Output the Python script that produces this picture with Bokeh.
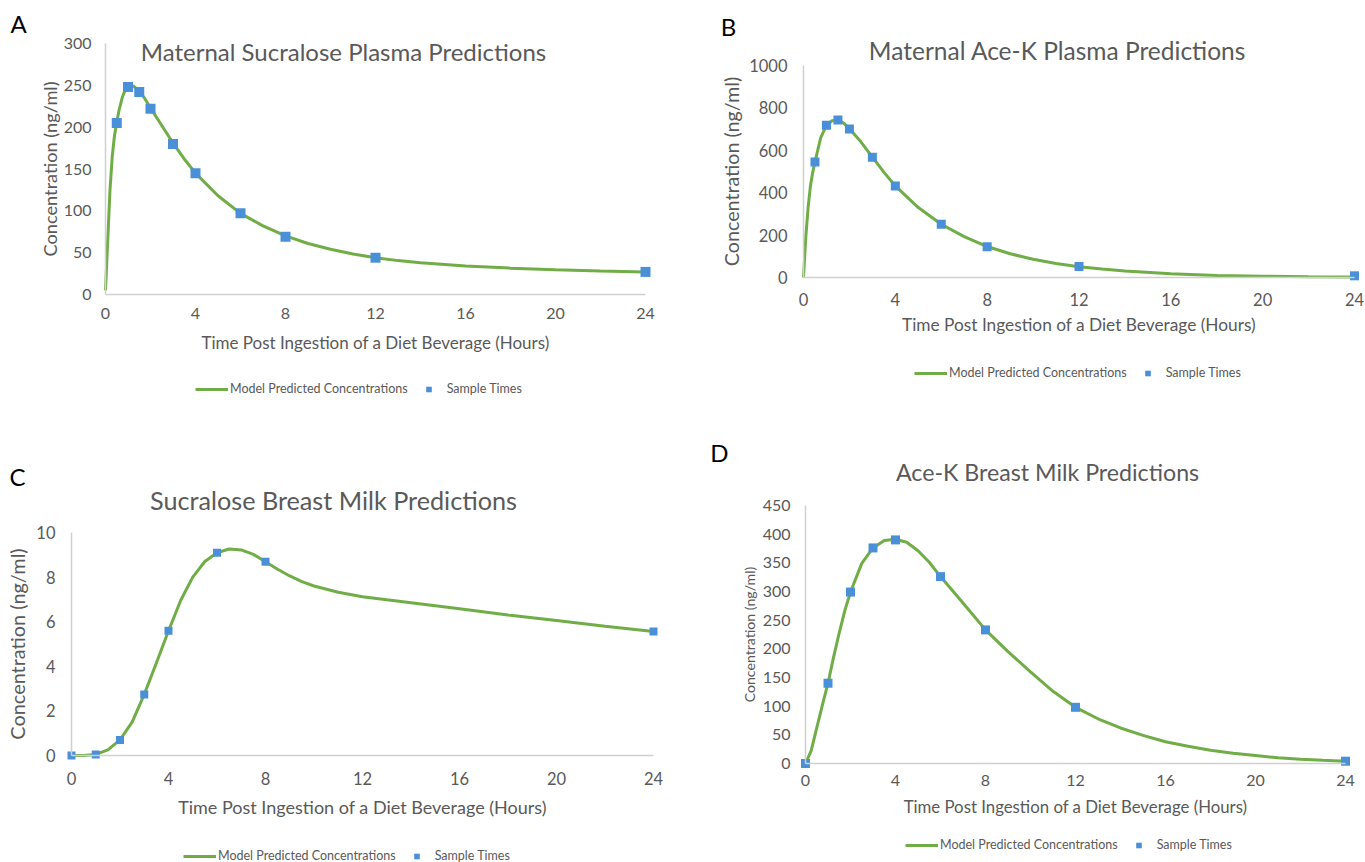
from bokeh.plotting import figure
from bokeh.models import Range1d, FixedTicker, Label, Legend, LegendItem
from bokeh.layouts import row, column
from bokeh.embed import file_html
from bokeh.resources import INLINE

# ---------------- data ----------------
hour_ticks = [0, 4, 8, 12, 16, 20, 24]

# A  Maternal sucralose plasma
sucralose_plasma_yticks = [0, 50, 100, 150, 200, 250, 300]
sucralose_plasma_sample_t = [0.5, 1, 1.5, 2, 3, 4, 6, 8, 12, 24]
sucralose_plasma_sample_c = [205, 248, 242, 222, 180, 145, 97, 69, 44, 27]
sucralose_plasma_model_t = [0, 0.1, 0.2, 0.3, 0.4, 0.5, 0.6, 0.75, 0.9, 1.0,
                            1.1, 1.25, 1.5, 1.75, 2, 2.5, 3, 3.5, 4, 5,
                            6, 7, 8, 9, 10, 11, 12, 13, 14, 16,
                            18, 20, 22, 24]
sucralose_plasma_model_c = [5, 65, 125, 165, 190, 206, 220, 236, 246, 249,
                            250, 249, 243, 234, 223, 202, 181, 162, 145, 118,
                            97, 82, 70, 61, 54, 48.5, 44, 40.5, 38, 34,
                            31.5, 29.5, 28, 27]

# B  Maternal Ace-K plasma
acek_plasma_yticks = [0, 200, 400, 600, 800, 1000]
acek_plasma_sample_t = [0.5, 1, 1.5, 2, 3, 4, 6, 8, 12, 24]
acek_plasma_sample_c = [545, 718, 743, 700, 567, 432, 251, 145, 52, 8]
acek_plasma_model_t = [0, 0.1, 0.2, 0.3, 0.4, 0.5, 0.75, 1, 1.25, 1.5,
                       1.75, 2, 2.5, 3, 3.5, 4, 5, 6, 7, 8,
                       9, 10, 11, 12, 13, 14, 16, 18, 20, 22,
                       24]
acek_plasma_model_c = [0, 190, 330, 430, 495, 545, 660, 718, 740, 743,
                       728, 702, 640, 568, 497, 432, 330, 251, 193, 146,
                       112, 86, 66, 51, 40, 31, 18, 10, 6, 3,
                       2]

# C  Sucralose breast milk
sucralose_milk_yticks = [0, 2, 4, 6, 8, 10]
sucralose_milk_sample_t = [0, 1, 2, 3, 4, 6, 8, 24]
sucralose_milk_sample_c = [0, 0.05, 0.70, 2.74, 5.59, 9.09, 8.69, 5.56]
sucralose_milk_model_t = [0, 0.5, 1, 1.5, 2, 2.5, 3, 3.5, 4, 4.5,
                          5, 5.5, 6, 6.5, 7, 7.5, 8, 8.5, 9, 9.5,
                          10, 11, 12, 13, 14, 16, 18, 20, 22, 24]
sucralose_milk_model_c = [0, 0, 0.05, 0.25, 0.70, 1.50, 2.74, 4.15, 5.59, 6.95,
                          8.0, 8.7, 9.09, 9.26, 9.22, 9.02, 8.69, 8.35, 8.05, 7.8,
                          7.6, 7.32, 7.12, 6.98, 6.85, 6.58, 6.3, 6.05, 5.8, 5.56]

# D  Ace-K breast milk
acek_milk_yticks = [0, 50, 100, 150, 200, 250, 300, 350, 400, 450]
acek_milk_sample_t = [0, 1, 2, 3, 4, 6, 8, 12, 24]
acek_milk_sample_c = [0, 140, 299, 376, 390, 326, 233, 98, 4]
acek_milk_model_t = [0, 0.25, 0.5, 0.75, 1, 1.25, 1.5, 1.75, 2, 2.5,
                     3, 3.5, 4, 4.5, 5, 5.5, 6, 7, 8, 9,
                     10, 11, 12, 13, 14, 15, 16, 17, 18, 19,
                     20, 21, 22, 23, 24]
acek_milk_model_c = [0, 22, 62, 102, 140, 186, 228, 267, 299, 349,
                     376, 389, 391, 386, 371, 351, 326, 280, 233, 195,
                     160, 126, 98, 78, 62, 49, 38, 30, 23, 18,
                     14, 10, 7.5, 5.5, 4]

x_title = "Time Post Ingestion of a Diet Beverage (Hours)"
y_title = "Concentration (ng/ml)"
line_name = "Model Predicted Concentrations"
marker_name = "Sample Times"

# ---------------- styling / layout ----------------
FONT = "Lato"
TEXT = "#595959"
GREEN = "#70AD47"
BLUE = "#4A90D9"
AXIS = "#D0D0D0"


def build(spec, model_t, model_c, samp_t, samp_c, yticks):
    ox, oy = spec["origin"]
    W, H = spec["size"]
    x0, x24 = spec["xpx"]
    y0, ytp = spec["ypx"]
    xmax = hour_ticks[-1]
    ymax = yticks[-1]
    sx = (x24 - x0) / xmax
    sy = (y0 - ytp) / ymax

    # the frame fills the whole canvas; ranges chosen so data lands on the reference pixels
    p = figure(width=W, height=H, title=None,
               x_range=Range1d((ox - x0) / sx, (ox + W - x0) / sx),
               y_range=Range1d((y0 - (oy + H)) / sy, (y0 - oy) / sy),
               min_border_left=0, min_border_right=0,
               min_border_top=0, min_border_bottom=0,
               output_backend="svg", toolbar_location=None)
    p.xgrid.visible = False
    p.ygrid.visible = False
    p.outline_line_color = None
    p.background_fill_color = "white"
    p.border_fill_color = "white"

    for ax in (p.xaxis[0], p.yaxis[0]):
        ax.axis_line_color = AXIS
        ax.axis_line_width = 1.5
        ax.major_tick_line_color = None
        ax.minor_tick_line_color = None
        ax.major_tick_out = 0
        ax.major_tick_in = 0
        ax.minor_tick_out = 0
        ax.minor_tick_in = 0
        ax.major_label_text_font = FONT
        ax.major_label_text_color = TEXT
        ax.major_label_text_font_size = spec["tick_fs"]
        ax.axis_label_text_font = FONT
        ax.axis_label_text_color = TEXT
        ax.axis_label_text_font_style = "normal"
        ax.fixed_location = 0

    xa, ya = p.xaxis[0], p.yaxis[0]
    xa.ticker = FixedTicker(ticks=hour_ticks)
    xa.bounds = (0, xmax)
    xa.axis_label = x_title
    xa.axis_label_text_font_size = spec["xlab_fs"]
    xa.major_label_standoff = spec["x_std"][0]
    xa.axis_label_standoff = spec["x_std"][1]
    ya.ticker = FixedTicker(ticks=yticks)
    ya.bounds = (0, ymax)
    ya.axis_label = y_title
    ya.axis_label_text_font_size = spec["ylab_fs"]
    ya.major_label_standoff = spec["y_std"][0]
    ya.axis_label_standoff = spec["y_std"][1]

    lr = p.line(model_t, model_c, line_color=GREEN, line_width=3)
    sr = p.scatter(samp_t, samp_c, marker="square", size=spec["msize"],
                   fill_color=BLUE, line_color=None)

    lx, ly = spec["legend"]
    leg = Legend(items=[LegendItem(label=line_name, renderers=[lr]),
                        LegendItem(label=marker_name, renderers=[sr])],
                 orientation="horizontal",
                 location=(lx - ox, (oy + H) - (ly + 7)),
                 glyph_width=33, glyph_height=14, label_height=14,
                 label_standoff=2, spacing=4, padding=0, margin=0,
                 border_line_color=None, background_fill_alpha=0,
                 label_text_font=FONT, label_text_font_size="12.5px",
                 label_text_color=TEXT)
    p.add_layout(leg)

    def lab(text, pos, size, color):
        p.add_layout(Label(x=(pos[0] - x0) / sx, y=(y0 - pos[1]) / sy,
                           text=text, text_align="center", text_baseline="middle",
                           text_font=FONT, text_font_size=size, text_color=color))

    lab(spec["title"], spec["title_pos"], spec["title_fs"], TEXT)
    lab(spec["letter"], spec["letter_pos"], "24px", "black")
    return p


spec_a = dict(origin=(0, 0), size=(690, 433), xpx=(105, 645), ypx=(294, 43), msize=10,
              title="Maternal Sucralose Plasma Predictions", title_pos=(343, 51), title_fs="24px",
              letter="A", letter_pos=(18, 23), legend=(195, 389),
              tick_fs="16px", xlab_fs="17px", ylab_fs="18.2px", x_std=(13, 10), y_std=(14, 0))
spec_b = dict(origin=(690, 0), size=(675, 433), xpx=(803, 1354), ypx=(277, 65), msize=9,
              title="Maternal Ace-K Plasma Predictions", title_pos=(1057, 50), title_fs="24.5px",
              letter="B", letter_pos=(728, 26), legend=(914, 373),
              tick_fs="16.5px", xlab_fs="17.3px", ylab_fs="19.7px", x_std=(15, 5), y_std=(16, 3))
spec_c = dict(origin=(0, 433), size=(690, 429), xpx=(71, 653), ypx=(755, 532), msize=8,
              title="Sucralose Breast Milk Predictions", title_pos=(333, 499), title_fs="25.2px",
              letter="C", letter_pos=(17, 476), legend=(183, 856),
              tick_fs="16.5px", xlab_fs="18px", ylab_fs="19.9px", x_std=(16, 8), y_std=(16, 4))
spec_d = dict(origin=(690, 433), size=(675, 429), xpx=(805, 1345), ypx=(763, 505), msize=9,
              title="Ace-K Breast Milk Predictions", title_pos=(1047, 471), title_fs="23.2px",
              letter="D", letter_pos=(719, 452), legend=(905, 845),
              tick_fs="16px", xlab_fs="16.8px", ylab_fs="14.1px", x_std=(11, 7), y_std=(15, 2))

pa = build(spec_a, sucralose_plasma_model_t, sucralose_plasma_model_c,
           sucralose_plasma_sample_t, sucralose_plasma_sample_c, sucralose_plasma_yticks)
pb = build(spec_b, acek_plasma_model_t, acek_plasma_model_c,
           acek_plasma_sample_t, acek_plasma_sample_c, acek_plasma_yticks)
pc = build(spec_c, sucralose_milk_model_t, sucralose_milk_model_c,
           sucralose_milk_sample_t, sucralose_milk_sample_c, sucralose_milk_yticks)
pd = build(spec_d, acek_milk_model_t, acek_milk_model_c,
           acek_milk_sample_t, acek_milk_sample_c, acek_milk_yticks)

layout = column(row(pa, pb), row(pc, pd))
open("out.html", "w").write(file_html(layout, INLINE))
